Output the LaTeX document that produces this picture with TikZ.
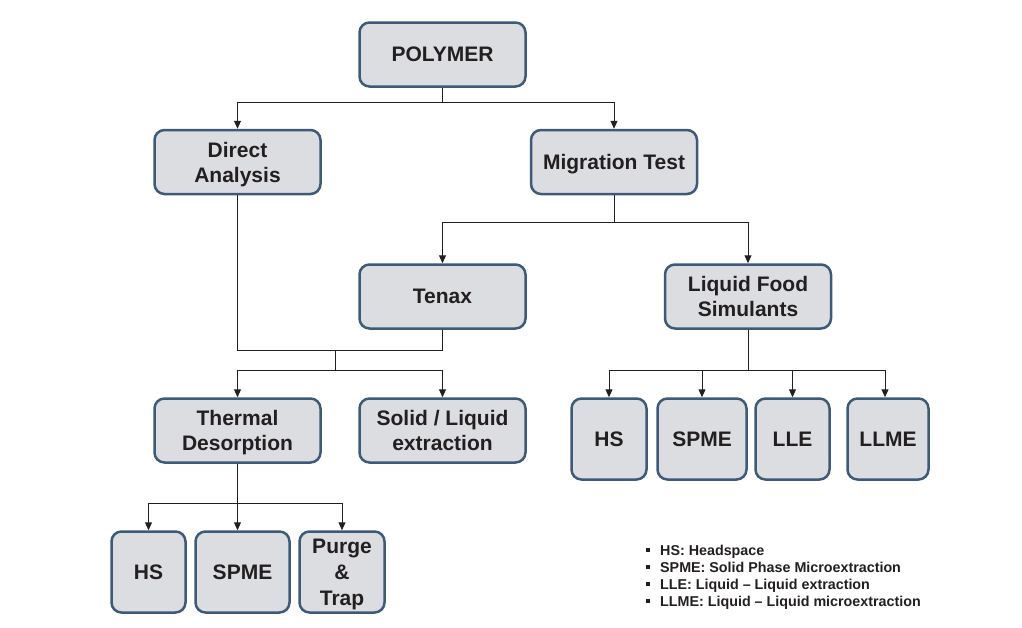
\documentclass[tikz,border=0pt]{standalone}
\usepackage{fontspec}
\setmainfont{Liberation Sans}
\usetikzlibrary{arrows.meta}
\definecolor{boxfill}{HTML}{DCDDE0}
\definecolor{boxedge}{HTML}{3D5A78}
\definecolor{txt}{HTML}{231F20}
\newcommand{\nodp}[1]{\raisebox{0pt}[\height][0pt]{#1}}
\tikzset{
 box/.style={draw=boxedge, fill=boxfill, line width=2.5pt, rounded corners=10pt, align=center, inner sep=0pt, font=\bfseries\fontsize{21}{25}\selectfont, text=txt},
 conn/.style={line width=1pt, draw=txt},
 arr/.style={conn, -{Triangle[length=8pt,width=7pt]}},
 legtext/.style={anchor=base west, inner sep=0pt, text=txt, font=\bfseries\fontsize{14.3}{17}\selectfont},
 bulletsq/.style={fill=txt, inner sep=0pt, minimum size=4.5pt}
}
\begin{document}
\begin{tikzpicture}[x=1pt,y=-1pt]
\useasboundingbox (0,0) rectangle (1022,627);
\node[box, minimum width=166pt, minimum height=64pt] (poly) at (442.5,54.5) {POLYMER};
\node[box, minimum width=166pt, minimum height=64pt] (direct) at (237.5,162) {Direct\\\nodp{Analysis}};
\node[box, minimum width=166pt, minimum height=64pt] (mig) at (614,162) {\nodp{Migration Test}};
\node[box, minimum width=166pt, minimum height=64pt] (tenax) at (442.5,296.5) {Tenax};
\node[box, minimum width=166pt, minimum height=64pt] (lfs) at (748,296.5) {Liquid Food\\Simulants};
\node[box, minimum width=166pt, minimum height=64pt] (thermal) at (237.5,430.5) {Thermal\\\nodp{Desorption}};
\node[box, minimum width=166pt, minimum height=64pt] (solid) at (442.5,430.5) {Solid / Liquid\\extraction};
\node[box, minimum width=75pt, minimum height=81pt] (hsa) at (609,439) {HS};
\node[box, minimum width=89pt, minimum height=81pt] (spmea) at (702,439) {SPME};
\node[box, minimum width=74pt, minimum height=81pt] (lle) at (792.5,439) {LLE};
\node[box, minimum width=81pt, minimum height=81pt] (llme) at (888,439) {LLME};
\node[box, minimum width=74pt, minimum height=81pt] (hsb) at (148.5,572) {HS};
\node[box, minimum width=94pt, minimum height=81pt] (spmeb) at (242.5,572) {SPME};
\node[box, minimum width=85pt, minimum height=81pt, font=\bfseries\fontsize{21}{26}\selectfont] (purge) at (342,572) {Purge\\\&\\\nodp{Trap}};
% connectors
\coordinate (j1) at (442.5,102);
\draw[conn] (poly.south) -- (j1);
\draw[arr] (j1) -| (direct.north);
\draw[arr] (j1) -| (mig.north);
\coordinate (j2) at (614,222);
\draw[conn] (mig.south) -- (j2);
\draw[arr] (j2) -| (tenax.north);
\draw[arr] (j2) -| (lfs.north);
\coordinate (j3) at (335,350);
\coordinate (j4) at (335,370);
\draw[conn] (direct.south) |- (j3);
\draw[conn] (tenax.south) |- (j3);
\draw[conn] (j3) -- (j4);
\draw[arr] (j4) -| (thermal.north);
\draw[arr] (j4) -| (solid.north);
\coordinate (j5) at (748,370);
\draw[conn] (lfs.south) -- (j5);
\draw[arr] (j5) -| (hsa.north);
\draw[arr] (j5) -| (spmea.north);
\draw[arr] (j5) -| (lle.north);
\draw[arr] (j5) -| ([xshift=-3pt]llme.north);
\coordinate (j6) at (237.5,503);
\draw[conn] (thermal.south) -- (j6);
\draw[arr] (j6) -| (hsb.north);
\draw[arr] (j6) -- (j6 |- spmeb.north);
\draw[arr] (j6) -| (purge.north);
% legend
\node[legtext] (l1) at (660,555) {HS: Headspace};
\node[legtext] (l2) at (660,572) {SPME: Solid Phase Microextraction};
\node[legtext] (l3) at (660,589) {LLE: Liquid -- Liquid extraction};
\node[legtext] (l4) at (660,606) {LLME: Liquid -- Liquid microextraction};
\node[bulletsq] (b1) at (648,550) {};
\node[bulletsq] (b2) at (648,567) {};
\node[bulletsq] (b3) at (648,584) {};
\node[bulletsq] (b4) at (648,601) {};
\end{tikzpicture}
\end{document}
